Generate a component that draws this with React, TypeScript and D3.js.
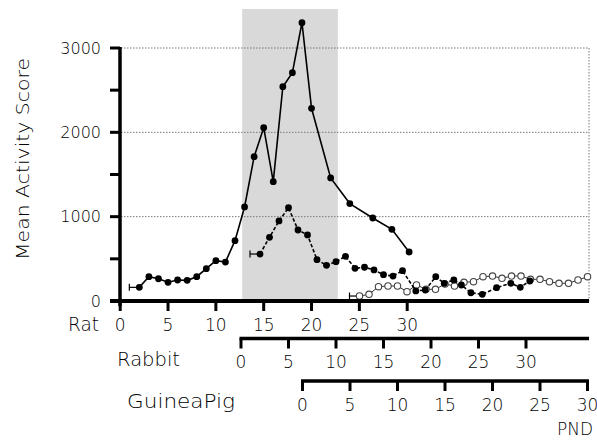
import React from 'react';
import * as d3 from 'd3';

// ---- data ----
const ratDays = [2, 3, 4, 5, 6, 7, 8, 9, 10, 11, 12, 13, 14, 15, 16, 17, 18, 19, 20, 22, 24, 26.4, 28.4, 30.2];
const ratValues = [162, 288, 264, 222, 249, 245, 288, 383, 478, 462, 715, 1115, 1711, 2055, 1415, 2541, 2707, 3300, 2285, 1459, 1155, 984, 850, 581];

const rabbitDays = [2, 3, 4, 5, 6, 7, 8, 9, 10, 11, 12, 13, 14, 15, 16, 17, 18.4, 19.4, 20.5, 21.4, 22.4, 23.2, 24.2, 25.4, 26.9, 28.4, 29.4, 30.4];
const rabbitValues = [557, 755, 949, 1106, 842, 783, 490, 423, 466, 530, 388, 400, 368, 312, 296, 359, 119, 130, 288, 210, 249, 190, 98, 79, 158, 210, 162, 237];

const gpDays = [6, 7, 8, 9, 10, 11, 12, 13, 14, 15, 16, 17, 18, 19, 20, 21, 22, 23, 24, 25, 26, 27, 28, 29, 30];
const gpValues = [59, 79, 170, 178, 178, 110, 190, 139, 139, 202, 178, 222, 229, 288, 296, 269, 296, 296, 257, 257, 229, 210, 210, 249, 288];

const yTicks = [0, 1000, 2000, 3000];
const yMinorTicks = [500, 1500, 2500];
const dayTicks = [0, 5, 10, 15, 20, 25, 30];
const speciesNames = ['Rat', 'Rabbit', 'GuineaPig'];
const yTitle = 'Mean Activity Score';
const xTitle = 'PND';
const shadeRatDays = [12.75, 22.75];

const FONT = '"DejaVu Sans", sans-serif';

export default function App() {
  const W = 597, H = 446;
  const y = d3.scaleLinear().domain([0, 3000]).range([301, 48]);
  const xRat = d3.scaleLinear().domain([0, 30]).range([120.2, 407.2]);
  const xRab = d3.scaleLinear().domain([0, 30]).range([241, 526]);
  const xGP = d3.scaleLinear().domain([0, 30]).range([302.5, 587.5]);
  const rightX = 589;

  const mk = (xs: number[], vs: number[], sx: d3.ScaleLinear<number, number>) =>
    xs.map((d, i) => [sx(d), y(vs[i])] as [number, number]);
  const ratPts = mk(ratDays, ratValues, xRat);
  const rabPts = mk(rabbitDays, rabbitValues, xRab);
  const gpPts = mk(gpDays, gpValues, xGP);
  const line = d3.line();

  const whisker = (p: [number, number], key: string) => (
    <g key={key} stroke="#000" strokeWidth={1.2}>
      <line x1={p[0] - 10} x2={p[0]} y1={p[1]} y2={p[1]} />
      <line x1={p[0] - 10} x2={p[0] - 10} y1={p[1] - 3.5} y2={p[1] + 3.5} />
    </g>
  );

  const axisRows = [
    { sx: xRat, yLine: 301, lw: 4, tickLen: 10, labelY: 331, start: 110, end: rightX },
    { sx: xRab, yLine: 338.5, lw: 3.5, tickLen: 10, labelY: 368, start: xRab(0) - 1.5, end: rightX },
    { sx: xGP, yLine: 381, lw: 3.5, tickLen: 10, labelY: 411, start: xGP(0) - 1.5, end: xGP(30) + 1.5 },
  ];
  const nameLayout = [
    { x: 68, y: 331, len: 31 },
    { x: 117, y: 366, len: 63 },
    { x: 127, y: 408, len: 108 },
  ];

  return (
    <svg width={W} height={H} style={{ position: 'absolute', left: 0, top: 0, background: '#fff' }} fontFamily={FONT} fontWeight={200}>
      <rect x={0} y={0} width={W} height={H} fill="#fff" />
      {/* shaded band */}
      <rect x={xRat(shadeRatDays[0])} y={9} width={xRat(shadeRatDays[1]) - xRat(shadeRatDays[0])} height={y(0) - 9} fill="#d9d9d9" />
      {/* grid */}
      {yTicks.filter(t => t > 0).map(t => (
        <line key={'g' + t} x1={121} x2={rightX} y1={y(t)} y2={y(t)} stroke="#777" strokeWidth={1} strokeDasharray="1.5,1.5" />
      ))}
      <line x1={rightX} x2={rightX} y1={y(3000)} y2={y(0)} stroke="#777" strokeWidth={1} strokeDasharray="1.5,1.5" />

      {/* guinea pig */}
      <path d={line(gpPts) || ''} fill="none" stroke="#333" strokeWidth={1} />
      {whisker(gpPts[0], 'wg')}
      {gpPts.map((p, i) => (
        <circle key={'gp' + i} cx={p[0]} cy={p[1]} r={3.2} fill="#fff" stroke="#444" strokeWidth={1.1} />
      ))}

      {/* rabbit */}
      <path d={line(rabPts) || ''} fill="none" stroke="#000" strokeWidth={1.6} strokeDasharray="3.5,2" />
      {whisker(rabPts[0], 'wr')}
      {rabPts.map((p, i) => (
        <circle key={'rb' + i} cx={p[0]} cy={p[1]} r={3.4} fill="#000" />
      ))}

      {/* rat */}
      <path d={line(ratPts) || ''} fill="none" stroke="#000" strokeWidth={1.6} />
      {whisker(ratPts[0], 'wt')}
      {ratPts.map((p, i) => (
        <circle key={'rt' + i} cx={p[0]} cy={p[1]} r={3.4} fill="#000" />
      ))}

      {/* y axis */}
      <line x1={120} x2={120} y1={y(3000) - 1} y2={306} stroke="#000" strokeWidth={3.5} />
      {[...yTicks, ...yMinorTicks].map(t => (
        <line key={'yt' + t} x1={110} x2={120} y1={y(t)} y2={y(t)} stroke="#000" strokeWidth={3} />
      ))}
      {yTicks.map(t => (
        <text key={'yl' + t} x={101} y={y(t)} dy="0.36em" textAnchor="end" fontSize={16} fill="#000">{t}</text>
      ))}
      <text transform={`translate(29,${159}) rotate(-90)`} textAnchor="middle" fontSize={18} fill="#000"
        textLength={202} lengthAdjust="spacingAndGlyphs">{yTitle}</text>

      {/* x axes */}
      {axisRows.map((a, k) => (
        <g key={'ax' + k}>
          <line x1={a.start} x2={a.end} y1={a.yLine} y2={a.yLine} stroke="#000" strokeWidth={a.lw} />
          {dayTicks.map(t => (
            <line key={'t' + t} x1={a.sx(t)} x2={a.sx(t)} y1={a.yLine} y2={a.yLine + a.tickLen} stroke="#000" strokeWidth={3} />
          ))}
          {dayTicks.map(t => (
            <text key={'l' + t} x={a.sx(t)} y={a.labelY} textAnchor="middle" fontSize={17} fill="#000">{t}</text>
          ))}
        </g>
      ))}
      {speciesNames.map((n, i) => (
        <text key={n} x={nameLayout[i].x} y={nameLayout[i].y} fontSize={19} fill="#000"
          textLength={nameLayout[i].len} lengthAdjust="spacingAndGlyphs">{n}</text>
      ))}
      <text x={593} y={435} textAnchor="end" fontSize={17} fill="#000" textLength={36} lengthAdjust="spacingAndGlyphs">{xTitle}</text>
    </svg>
  );
}
